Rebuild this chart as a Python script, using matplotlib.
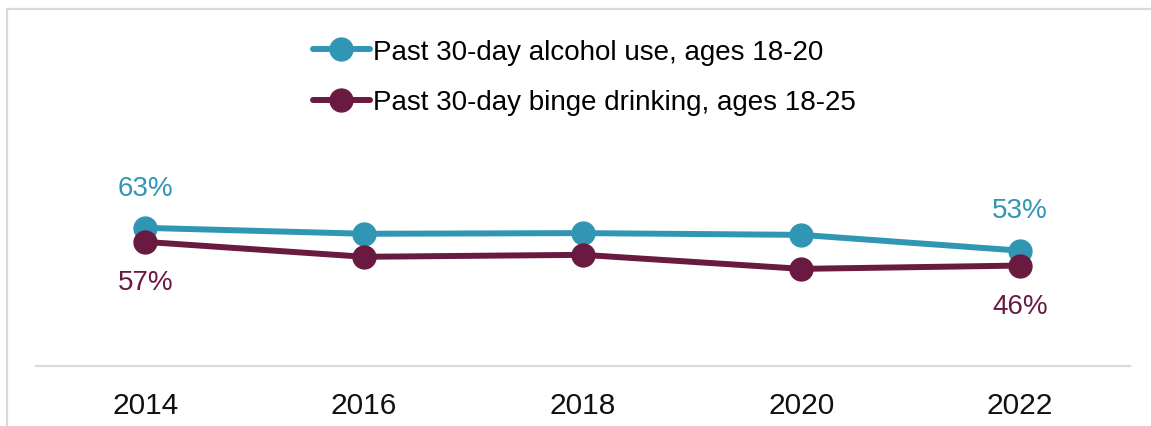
import matplotlib
matplotlib.use("Agg")
import matplotlib.pyplot as plt
from matplotlib.patches import Rectangle

years = ["2014", "2016", "2018", "2020", "2022"]
alcohol = [63.0, 60.3, 60.6, 59.8, 52.6]
binge = [56.6, 49.8, 50.7, 44.3, 45.8]
alcohol_label = "Past 30-day alcohol use, ages 18-20"
binge_label = "Past 30-day binge drinking, ages 18-25"
BLUE = "#3196b4"
MAROON = "#6a1a41"

plt.rcParams['font.family'] = ['Liberation Sans', 'DejaVu Sans']
W, H = 1151, 427
fig = plt.figure(figsize=(W/100, H/100), dpi=100)
ax = fig.add_axes([36/W, (H-367)/H, (1129.5-36)/W, (367-60)/H])

x = list(range(len(years)))
ax.plot(x, alcohol, color=BLUE, lw=4.3, marker='o', ms=16.5, label=alcohol_label, solid_capstyle='round')
ax.plot(x, binge, color=MAROON, lw=4.3, marker='o', ms=16.5, label=binge_label, solid_capstyle='round')

ax.set_xlim(-0.5, len(years)-0.5)
ax.set_ylim(0, 140)
ax.set_xticks(x)
ax.set_xticklabels(years, fontsize=21.5, color='#111111')
ax.tick_params(axis='x', length=0, pad=18)
ax.set_yticks([])
for s in ['top', 'left', 'right']:
    ax.spines[s].set_visible(False)
ax.spines['bottom'].set_color('#d9d9d9')
ax.spines['bottom'].set_linewidth(1.6)

# data labels at first and last points
for i in (0, len(years)-1):
    ax.annotate(f"{round(alcohol[i])}%", (x[i], alcohol[i]), xytext=(0, 29), textcoords='offset points',
                ha='center', va='center', fontsize=20, color=BLUE)
    ax.annotate(f"{round(binge[i])}%", (x[i], binge[i]), xytext=(0, -29), textcoords='offset points',
                ha='center', va='center', fontsize=20, color=MAROON)

fig.legend(loc='upper left', bbox_to_anchor=(313/W, 1-40/H), frameon=False, fontsize=20,
           handlelength=2.05, handletextpad=0.1, borderpad=0, borderaxespad=0, labelspacing=0.88)

fig.patches.append(Rectangle((7/W, -0.2), 1.2, 1.2 - 10/H, transform=fig.transFigure,
                             fill=False, edgecolor='#d9d9d9', lw=1.6))

fig.savefig("out.png", dpi=100)
